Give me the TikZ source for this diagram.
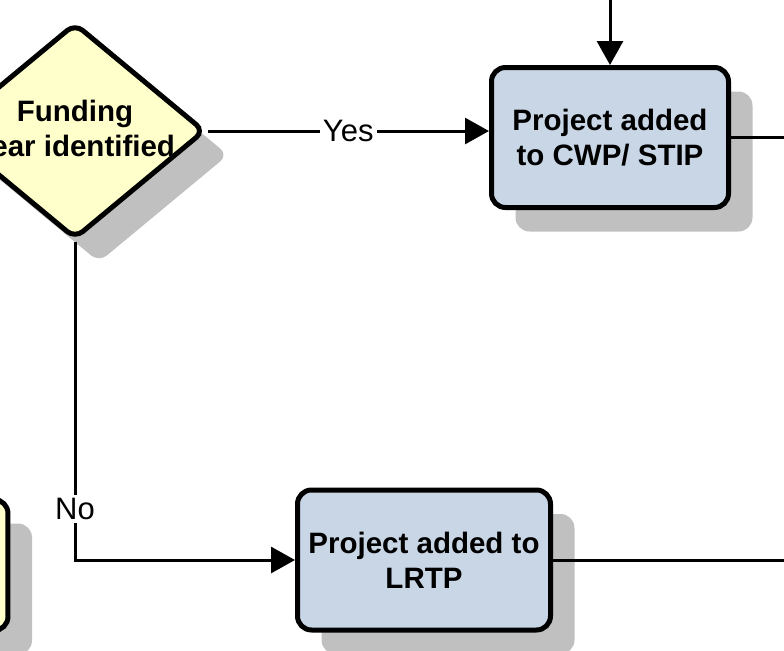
\documentclass[tikz,border=0pt]{standalone}
\usepackage{fontspec}
\setmainfont{Liberation Sans}
\usetikzlibrary{shapes.geometric, arrows.meta, shadows, positioning}

\definecolor{decfill}{HTML}{FFFFCC}
\definecolor{procfill}{HTML}{C9D6E6}
\definecolor{shadowgray}{HTML}{C0C0C0}

\begin{document}
\begin{tikzpicture}[x=0.5pt, y=-0.5pt,
    shade box/.style={drop shadow={shadow xshift=12pt, shadow yshift=-12pt, fill=shadowgray, opacity=1}},
    process/.style={draw, line width=2.5pt, rounded corners=7pt, fill=procfill, shade box, align=center, font=\bfseries\fontsize{14.75}{17.5}\selectfont, minimum height=70pt},
    decision/.style={draw, diamond, line width=2.5pt, rounded corners=5pt, fill=decfill, shade box, minimum width=130pt, minimum height=108pt, inner sep=0pt},
    dectext/.style={align=center, font=\bfseries\fontsize{14.75}{17.5}\selectfont},
    arrow/.style={draw, line width=1.5pt, -{Triangle[length=12pt, width=13pt]}},
    line/.style={draw, line width=1.5pt},
    lbl/.style={fill=white, inner sep=1.5pt, font=\fontsize{15.5}{18}\selectfont}
]
    \useasboundingbox (0,0) rectangle (784,650);
    \clip (0,0) rectangle (784,650);

    % Steps
    \node[decision] (fund) at (75,131) {};
    \node[dectext] (fundtext) at (fund) {Funding\\year identified};
    \node[process, minimum width=118.5pt] (cwp) at (610,137.5) {Project added\\to CWP/ STIP};
    \node[process, minimum width=126.5pt] (lrtp) at (424,560) {Project added to\\LRTP};
    \node[draw, line width=2.5pt, rounded corners=7pt, fill=decfill, shade box, minimum width=120pt, minimum height=65.5pt] (prevstep) at (-112,565) {};

    % Loose ends
    \coordinate (topin) at (cwp.north |- 0,-10);
    \coordinate (cwpout) at (cwp.east -| 800,0);
    \coordinate (lrtpout) at (lrtp.east -| 800,0);

    % Flow
    \draw[arrow] (topin) -- (cwp.north);
    \draw[arrow] (fund.east) -- node[lbl] {Yes} (fund.east -| cwp.west);
    \draw[arrow] (fund.south) |- node[lbl, pos=0.42] {No} (lrtp.west);
    \draw[line] (cwp.east) -- (cwpout);
    \draw[line] (lrtp.east) -- (lrtpout);
\end{tikzpicture}
\end{document}
